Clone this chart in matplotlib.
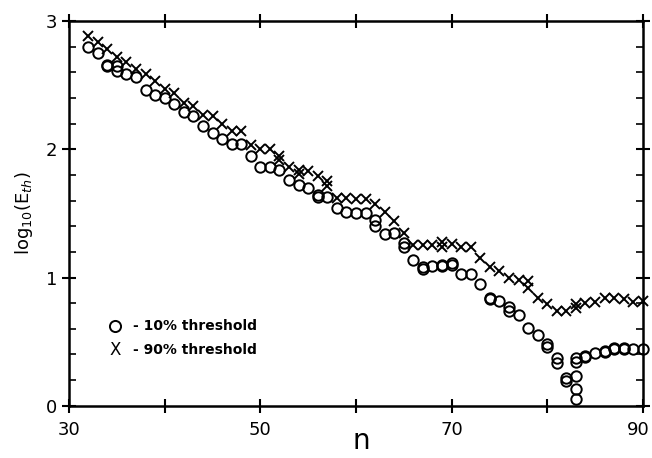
import numpy as np
import matplotlib
matplotlib.use('Agg')
from matplotlib import pyplot as plt
from matplotlib import transforms

# 10% threshold (circles), repeated n = several measurements
n_10 = [32, 33, 34, 34, 35, 35, 36, 37, 38, 39, 40, 41, 42, 43, 44, 45, 46, 47, 48, 49,
        50, 51, 52, 53, 54, 55, 56, 56, 57, 58, 59, 60, 61, 62, 62, 63, 64, 65, 65, 66,
        67, 67, 68, 69, 69, 70, 70, 71, 72, 73, 74, 74, 75, 76, 76, 77, 78, 79, 80, 80,
        81, 81, 82, 82, 83, 83, 83, 83, 83, 84, 84, 85, 86, 86, 87, 87, 88, 88, 89, 90]
log_e_10 = [2.80, 2.75, 2.66, 2.65, 2.65, 2.61, 2.59, 2.56, 2.46, 2.42, 2.40, 2.35, 2.29, 2.26,
            2.18, 2.13, 2.08, 2.04, 2.04, 1.95, 1.86, 1.86, 1.84, 1.76, 1.72, 1.70, 1.64, 1.63,
            1.63, 1.54, 1.51, 1.50, 1.50, 1.45, 1.40, 1.34, 1.35, 1.27, 1.24, 1.14, 1.08, 1.07,
            1.09, 1.09, 1.10, 1.10, 1.11, 1.03, 1.03, 0.95, 0.83, 0.84, 0.82, 0.77, 0.74, 0.71,
            0.61, 0.55, 0.48, 0.46, 0.37, 0.33, 0.22, 0.19, 0.37, 0.34, 0.23, 0.13, 0.05, 0.39,
            0.38, 0.41, 0.42, 0.43, 0.45, 0.44, 0.45, 0.44, 0.44, 0.44]

# 90% threshold (crosses)
n_90 = [32, 33, 34, 35, 36, 37, 38, 39, 40, 41, 42, 43, 44, 45, 46, 47, 48, 49, 50, 51,
        52, 52, 53, 54, 54, 55, 56, 57, 57, 58, 59, 60, 61, 62, 63, 64, 65, 66, 67, 68,
        69, 69, 70, 71, 72, 73, 74, 75, 76, 77, 78, 78, 79, 80, 81, 82, 83, 83, 84, 85,
        86, 87, 88, 89, 90]
log_e_90 = [2.88, 2.84, 2.78, 2.72, 2.68, 2.63, 2.59, 2.53, 2.47, 2.44, 2.36, 2.34, 2.27, 2.26,
            2.20, 2.14, 2.14, 2.03, 2.00, 2.00, 1.95, 1.92, 1.86, 1.84, 1.81, 1.83, 1.79, 1.75,
            1.71, 1.62, 1.62, 1.61, 1.61, 1.57, 1.51, 1.44, 1.35, 1.25, 1.25, 1.25, 1.28, 1.24,
            1.26, 1.24, 1.24, 1.15, 1.08, 1.05, 1.00, 0.98, 0.97, 0.92, 0.84, 0.79, 0.74, 0.74,
            0.79, 0.76, 0.80, 0.81, 0.84, 0.84, 0.83, 0.81, 0.82]

x_major = [30, 40, 50, 60, 70, 80, 90]
x_labels = ['30', '', '50', '', '70', '', '90']
y_major = [0, 1, 2, 3]

fig = plt.figure(figsize=(6.52, 4.58), dpi=100)
ax = fig.add_axes([0.106, 0.114, 0.880, 0.840])

ax.plot(n_10, log_e_10, 'o', mfc='none', mec='black', ms=7.5, mew=1.4, clip_on=False)
ax.plot(n_90, log_e_90, 'x', color='black', ms=7, mew=1.4, clip_on=False)

ax.set_xlim(30, 90)
ax.set_ylim(0, 3)
ax.set_xticks(x_major)
ax.set_xticklabels(x_labels)
ax.set_yticks(y_major)
ax.set_yticks(np.arange(0, 3.01, 0.2), minor=True)
ax.tick_params(axis='x', which='major', direction='inout', length=10, width=1.5,
               top=True, labelsize=13, pad=6)
ax.tick_params(axis='y', which='major', direction='inout', length=10, width=1.5,
               right=True, labelsize=13)
ax.tick_params(axis='y', which='minor', direction='in', length=5, width=1.2, right=True)
for s in ax.spines.values():
    s.set_linewidth(1.8)

# pull the last tick label in a little so it stays inside the figure
last = ax.get_xticklabels()[-1]
last.set_transform(last.get_transform() +
                   transforms.ScaledTranslation(-5 / 100, 0, fig.dpi_scale_trans))

ax.set_ylabel(r'log$_{10}$(E$_{th}$)', fontsize=13, labelpad=8)
ax.set_xlabel('n', fontsize=20, va='bottom')
ax.xaxis.set_label_coords(0.51, -0.128)

ax.plot([0.08], [0.208], 'o', transform=ax.transAxes, mfc='none', mec='black', ms=8, mew=1.4)
ax.text(0.111, 0.208, '- 10% threshold', transform=ax.transAxes, fontsize=10,
        fontweight='bold', va='center')
ax.text(0.08, 0.145, 'X', transform=ax.transAxes, fontsize=12, ha='center', va='center')
ax.text(0.111, 0.145, '- 90% threshold', transform=ax.transAxes, fontsize=10,
        fontweight='bold', va='center')

fig.savefig('out.png', dpi=100)
